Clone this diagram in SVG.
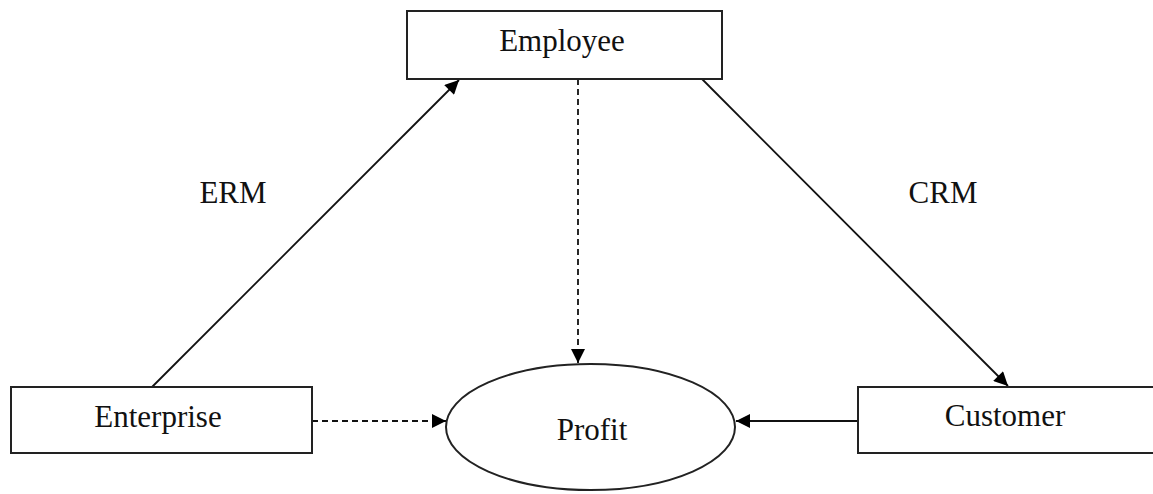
<svg xmlns="http://www.w3.org/2000/svg" width="1153" height="494" viewBox="0 0 1153 494">
<style>
.box{fill:#fff;stroke:#222;stroke-width:2}
.lbl{font-family:"Liberation Serif","Times New Roman",serif;font-size:31px;fill:#111;text-anchor:middle}
.edge{fill:none;stroke:#111;stroke-width:1.8}
.dash{stroke-dasharray:6 4}
</style>
<defs>
<marker id="arr" viewBox="0 0 10 10" refX="10" refY="5" markerWidth="16" markerHeight="14" markerUnits="userSpaceOnUse" orient="auto">
<path d="M0,0 L10,5 L0,10 Z" fill="#000"/>
</marker>
</defs>
<rect width="1153" height="494" fill="#fff"/>
<g id="connectors">
<line class="edge" x1="152" y1="387" x2="459" y2="80" marker-end="url(#arr)"/>
<line class="edge" x1="702" y1="79" x2="1008" y2="386" marker-end="url(#arr)"/>
<line class="edge dash" x1="578" y1="79" x2="578" y2="363" marker-end="url(#arr)"/>
<line class="edge dash" x1="312" y1="421" x2="446" y2="421" marker-end="url(#arr)"/>
<line class="edge" x1="858" y1="421" x2="736" y2="421" marker-end="url(#arr)"/>
<text class="lbl" x="233" y="203">ERM</text>
<text class="lbl" x="943" y="203">CRM</text>
</g>
<g id="employee">
<rect class="box" x="407" y="11" width="315" height="68"/>
<text class="lbl" x="562" y="51">Employee</text>
</g>
<g id="enterprise">
<rect class="box" x="11" y="387" width="301" height="66"/>
<text class="lbl" x="158" y="427">Enterprise</text>
</g>
<g id="customer">
<rect class="box" x="858" y="387" width="300" height="66"/>
<text class="lbl" x="1005" y="426">Customer</text>
</g>
<g id="profit">
<ellipse class="box" cx="590.5" cy="427" rx="144.5" ry="63" stroke-width="1.8"/>
<text class="lbl" x="592" y="440">Profit</text>
</g>
</svg>
